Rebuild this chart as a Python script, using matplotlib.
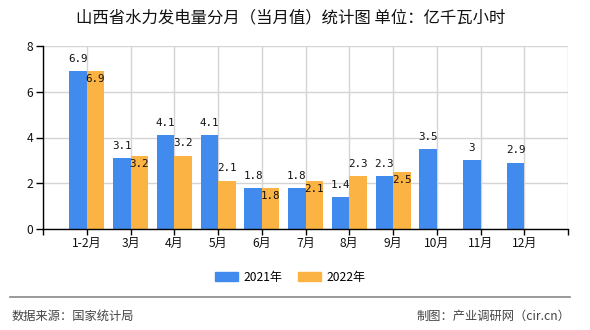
import matplotlib
matplotlib.use("Agg")
import matplotlib.pyplot as plt
from matplotlib.patches import Patch
from matplotlib.lines import Line2D

plt.rcParams['font.family'] = ['Noto Sans CJK SC', 'DejaVu Sans']

categories = ['1-2月', '3月', '4月', '5月', '6月', '7月', '8月', '9月', '10月', '11月', '12月']
values_2021 = [6.9, 3.1, 4.1, 4.1, 1.8, 1.8, 1.4, 2.3, 3.5, 3, 2.9]
values_2022 = [6.9, 3.2, 3.2, 2.1, 1.8, 2.1, 2.3, 2.5]
series_names = ['2021年', '2022年']
yticks = [0, 2, 4, 6, 8]

title = '山西省水力发电量分月（当月值）统计图 单位：亿千瓦小时'
source = '数据来源：国家统计局'
credit = '制图：产业调研网（cir.cn）'

blue = '#418BEF'
orange = '#FBB343'

W, H = 590, 330
fig = plt.figure(figsize=(W / 100, H / 100), dpi=100)
ax = fig.add_axes([43 / W, 1 - 229 / H, 525 / W, 183 / H])

n = len(categories)
bw = 0.4
x1 = [i - bw / 2 for i in range(len(values_2021))]
x2 = [i + bw / 2 for i in range(len(values_2022))]
ax.bar(x1, values_2021, width=bw, color=blue, zorder=3)
ax.bar(x2, values_2022, width=bw, color=orange, zorder=3)

lab_font = dict(family='DejaVu Sans Mono', fontsize=7.8, color='#111')
for x, v in zip(x1, values_2021):
    ax.annotate(f'{v:g}', (x, v), xytext=(0, 8.8), textcoords='offset points',
                ha='center', va='center', zorder=5, **lab_font)
for i, (x, v) in enumerate(zip(x2, values_2022)):
    b = values_2021[i]
    off = -5.8 if abs(v - b) < 0.5 else 9.2
    ax.annotate(f'{v:g}', (x, v), xytext=(0, off), textcoords='offset points',
                ha='center', va='center', zorder=5, **lab_font)

ax.set_xlim(-1, n)
ax.set_ylim(0, 8)
ax.set_yticks(yticks)
ax.set_xticks(range(-1, n + 1))
ax.set_xticklabels([''] + categories + [''])
ax.tick_params(axis='x', length=4, width=1, color='black', labelsize=8.7,
               labelcolor='#111', pad=2)
ax.tick_params(axis='y', length=5, width=1, color='black', labelsize=8.7,
               labelcolor='#111', pad=2)
ax.grid(True, color='#d4d4d4', linewidth=1, zorder=0)
ax.set_axisbelow(True)
for s in ['top', 'right']:
    ax.spines[s].set_visible(False)
for s in ['left', 'bottom']:
    ax.spines[s].set_color('black')
    ax.spines[s].set_linewidth(1)
    ax.spines[s].set_zorder(4)

fig.text(291 / W, 1 - 18 / H, title, ha='center', va='center', fontsize=11.8, color='#111')

handles = [Patch(color=blue), Patch(color=orange)]
fig.legend(handles, series_names, loc='center', bbox_to_anchor=(290 / W, 1 - 277 / H),
           ncol=2, frameon=False, fontsize=8.7, handlelength=1.9, handleheight=0.7,
           handletextpad=0.45, columnspacing=1.3, borderpad=0)

fig.add_artist(Line2D([10 / W, 570 / W], [1 - 297 / H, 1 - 297 / H], color='#888888',
                      linewidth=1.2, transform=fig.transFigure))
fig.text(12 / W, 1 - 316 / H, source, ha='left', va='center', fontsize=8.8, color='#444')
fig.text(570 / W, 1 - 316 / H, credit, ha='right', va='center', fontsize=8.8, color='#444')

fig.savefig('out.png', dpi=100)
